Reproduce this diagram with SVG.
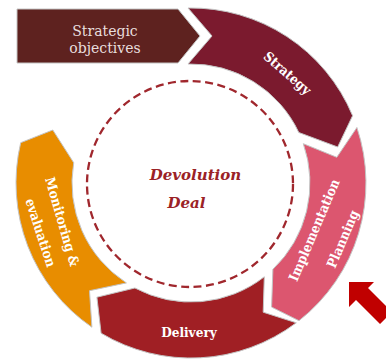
<svg xmlns="http://www.w3.org/2000/svg" width="386" height="360" viewBox="0 0 386 360">
<style>
.seg{stroke:#c4c4c4;stroke-width:1;stroke-linejoin:miter}
.lbl{font-family:"DejaVu Serif Condensed","DejaVu Serif",serif;font-stretch:condensed;font-weight:bold;font-size:13.5px;fill:#ffffff;text-anchor:middle}
.ctr{font-family:"DejaVu Serif",serif;font-weight:bold;font-style:italic;font-size:15px;fill:#9b2226;text-anchor:middle}
.obj{font-family:"DejaVu Serif",serif;font-size:14px;fill:#e8dede;text-anchor:middle}
</style>
<rect width="386" height="360" fill="#ffffff"/>
<g id="devolution-deal">
<circle cx="190" cy="184" r="103" fill="none" stroke="#a0272d" stroke-width="2.3" stroke-dasharray="8 4.5"/>
<text class="ctr" x="195.5" y="180">Devolution</text>
<text class="ctr" x="186.5" y="208">Deal</text>
</g>
<g id="strategic-objectives">
<path d="M17,9 L178,9 L200,36 L178,63 L17,63 Z" fill="#5e221f" class="seg"/>
<text class="obj" x="105" y="36">Strategic</text>
<text class="obj" x="105" y="53">objectives</text>
</g>
<g id="strategy">
<path class="seg" fill="#7b1a2e" d="M188,8 A175,175 0 0 1 352.6,115.7 L337.7,147 L298.8,132.5 A119,119 0 0 0 188,64 L212,36 Z"/>
<text class="lbl" transform="translate(287.5,73) rotate(41)" dy="0.36em">Strategy</text>
</g>
<g id="implementation-planning">
<path class="seg" fill="#dc566f" d="M356.9,127.5 A175,175 0 0 1 299,320.7 L271.6,307.1 L272.9,269.3 A119,119 0 0 0 303.3,143.7 L336.8,157.3 Z"/>
<text class="lbl" transform="translate(314,230) rotate(-67)" dy="0.36em">Implementation</text>
<text class="lbl" transform="translate(342.5,239) rotate(-67)" dy="0.36em">Planning</text>
</g>
<g id="delivery">
<path class="seg" fill="#a01f24" d="M296.3,322.8 A175,175 0 0 1 101.1,333.2 L96.9,297.2 L134.9,288 A119,119 0 0 0 264.3,276.8 L263.2,312.2 Z"/>
<text class="lbl" x="189" y="337">Delivery</text>
</g>
<g id="monitoring-evaluation">
<path class="seg" fill="#e88d00" d="M91.9,327.2 A175,175 0 0 1 20.7,142.7 L52.8,130 L73.7,162.7 A119,119 0 0 0 126.4,282.9 L89.5,290.7 Z"/>
<text class="lbl" transform="translate(62.5,221.7) rotate(74)" dy="0.36em">Monitoring &amp;</text>
<text class="lbl" transform="translate(40.8,232.5) rotate(72)" dy="0.36em">evaluation</text>
</g>
<g id="pointer-arrow">
<path d="M349,282 L374,282 L368,288 L392,312 L380,324 L356,300 L349,307 Z" fill="#c00000"/>
</g>
</svg>
